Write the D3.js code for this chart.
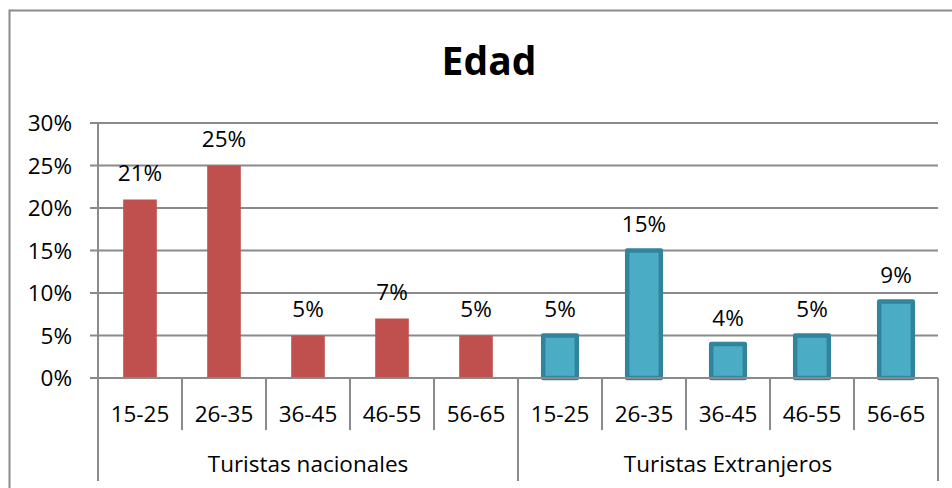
<!DOCTYPE html>
<html><head><meta charset="utf-8">
<script src="https://cdn.jsdelivr.net/npm/d3@7"></script>
<style>body{margin:0;background:#fff}svg{display:block}text{font-family:"Open Sans",sans-serif;fill:#000}</style>
</head><body><svg id="c" width="952" height="488"></svg>
<script>
const title = "Edad";
const groups = ["Turistas nacionales", "Turistas Extranjeros"];
const ageBands = ["15-25", "26-35", "36-45", "46-55", "56-65"];
const nacionales = [21, 25, 5, 7, 5];
const extranjeros = [5, 15, 4, 5, 9];
const yTicks = [0, 5, 10, 15, 20, 25, 30];

const svg = d3.select("#c");
const m = {left: 98, right: 938, top: 123, bottom: 378};
const grid = "#8a8a8a";
const fs = "22.5px";

// outer border
svg.append("rect").attr("x", 9.5).attr("y", 10.5).attr("width", 1000).attr("height", 600)
  .attr("fill", "none").attr("stroke", grid).attr("stroke-width", 2);

svg.append("text").attr("x", 489).attr("y", 75).attr("text-anchor", "middle")
  .style("font-size", "39px").style("font-weight", "700").text(title);

const rows = [];
groups.forEach((g, gi) => {
  const vals = gi === 0 ? nacionales : extranjeros;
  ageBands.forEach((a, i) => rows.push({key: g + "|" + a, group: gi, band: a, value: vals[i]}));
});

const x = d3.scaleBand().domain(rows.map(d => d.key)).range([m.left, m.right])
  .paddingInner(0.6).paddingOuter(0.3);
const step = x.step();
const y = d3.scaleLinear().domain([0, 30]).range([m.bottom, m.top]);

// gridlines
svg.append("g").selectAll("line").data(yTicks).join("line")
  .attr("x1", m.left - 8).attr("x2", m.right).attr("y1", d => y(d)).attr("y2", d => y(d))
  .attr("stroke", grid).attr("stroke-width", 2);
// y axis line
svg.append("line").attr("x1", m.left).attr("x2", m.left).attr("y1", m.top).attr("y2", m.bottom)
  .attr("stroke", grid).attr("stroke-width", 2);
// y labels
svg.append("g").selectAll("text").data(yTicks).join("text")
  .attr("x", 72).attr("y", d => y(d) + 8).attr("text-anchor", "end")
  .style("font-size", fs).text(d => d + "%");

// bars
const bars = svg.append("g");
bars.selectAll("rect.n").data(rows.filter(d => d.group === 0)).join("rect")
  .attr("x", d => x(d.key)).attr("width", x.bandwidth())
  .attr("y", d => y(d.value)).attr("height", d => y(0) - y(d.value))
  .attr("fill", "#C0504D");
bars.selectAll("rect.e").data(rows.filter(d => d.group === 1)).join("rect")
  .attr("x", d => x(d.key)).attr("width", x.bandwidth())
  .attr("y", d => y(d.value)).attr("height", d => y(0) - y(d.value))
  .attr("fill", "#4BACC6").attr("stroke", "#31849B").attr("stroke-width", 4.5)
  .attr("stroke-linejoin", "round");

// data labels
svg.append("g").selectAll("text").data(rows).join("text")
  .attr("x", d => x(d.key) + x.bandwidth() / 2).attr("y", d => y(d.value) - 18.5)
  .attr("text-anchor", "middle").style("font-size", fs).text(d => d.value + "%");

// category axis
svg.append("line").attr("x1", m.left).attr("x2", m.right).attr("y1", m.bottom).attr("y2", m.bottom)
  .attr("stroke", grid).attr("stroke-width", 2);
const seps = d3.range(rows.length + 1);
svg.append("g").selectAll("line").data(seps).join("line")
  .attr("x1", i => m.left + i * step).attr("x2", i => m.left + i * step)
  .attr("y1", m.bottom).attr("y2", i => i % ageBands.length === 0 ? 481 : 430)
  .attr("stroke", grid).attr("stroke-width", 2);
svg.append("g").selectAll("text").data(rows).join("text")
  .attr("x", d => x(d.key) + x.bandwidth() / 2).attr("y", 421.5)
  .attr("text-anchor", "middle").style("font-size", fs).text(d => d.band);
svg.append("g").selectAll("text").data(groups).join("text")
  .attr("x", (g, gi) => m.left + (gi + 0.5) * ageBands.length * step).attr("y", 471.5)
  .attr("text-anchor", "middle").style("font-size", fs).text(g => g);
</script></body></html>
